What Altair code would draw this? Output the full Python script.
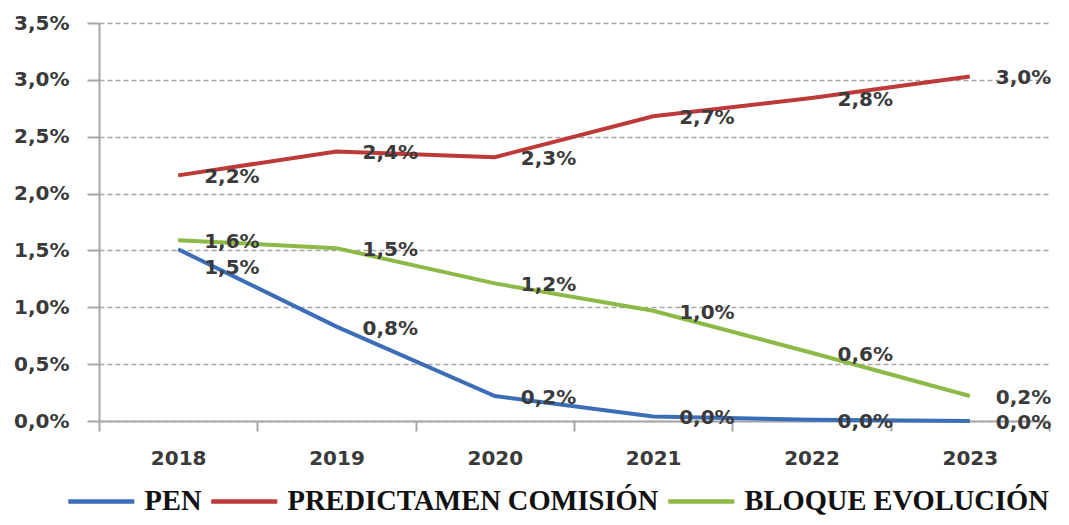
import altair as alt
import pandas as pd

years = ["2018", "2019", "2020", "2021", "2022", "2023"]
series = ["PEN", "PREDICTAMEN COMISIÓN", "BLOQUE EVOLUCIÓN"]
pen = [1.51, 0.83, 0.22, 0.04, 0.01, 0.00]
predictamen = [2.16, 2.37, 2.32, 2.68, 2.84, 3.03]
bloque = [1.59, 1.52, 1.21, 0.97, 0.60, 0.22]
colors = ["#3C6EB8", "#BE3A38", "#8DB946"]
y_ticks = [0.0, 0.5, 1.0, 1.5, 2.0, 2.5, 3.0, 3.5]

rows = []
for name, vals in zip(series, [pen, predictamen, bloque]):
    for yr, v in zip(years, vals):
        rows.append({"year": yr, "serie": name, "valor": v})
df = pd.DataFrame(rows)

AXIS_GRAY = "#a6a6a6"
TXT = "#3a3a3a"
FONT = "DejaVu Sans"

x_enc = alt.X(
    "year:O",
    scale=alt.Scale(type="band", paddingInner=0, paddingOuter=0),
    axis=alt.Axis(
        title=None, labelAngle=0, tickBand="extent", grid=False,
        domainColor=AXIS_GRAY, domainWidth=2, tickColor=AXIS_GRAY, tickWidth=2,
        tickSize=10, labelPadding=17, labelFont=FONT, labelFontSize=20,
        labelFontWeight="bold", labelColor=TXT,
    ),
)
y_enc = alt.Y(
    "valor:Q",
    scale=alt.Scale(domain=[0, 3.5], nice=False),
    axis=alt.Axis(
        title=None, values=y_ticks,
        labelExpr="replace(format(datum.value, '.1f'), '.', ',') + '%'",
        grid=True, gridDash=[5, 3], gridColor=AXIS_GRAY, gridWidth=1.5,
        domainColor=AXIS_GRAY, domainWidth=2, tickColor=AXIS_GRAY, tickWidth=2,
        tickSize=12, labelPadding=18, labelFont=FONT, labelFontSize=20,
        labelFontWeight="bold", labelColor=TXT,
    ),
)

base = alt.Chart(df).encode(x=x_enc, y=y_enc)

lines = base.mark_line(strokeWidth=4).encode(
    color=alt.Color(
        "serie:N",
        sort=series,
        scale=alt.Scale(domain=series, range=colors),
        legend=alt.Legend(
            title=None, orient="none", legendX=-12, legendY=464,
            direction="horizontal", columns=3,
            symbolType="M-3,0H3", symbolSize=484, symbolStrokeWidth=4.5,
            labelFont="Liberation Serif", labelFontSize=28.5, labelFontWeight="bold",
            labelColor="#111111", labelOffset=29, columnPadding=0, padding=0,
            labelLimit=1000,
        ),
    )
)

lab = base.transform_calculate(
    label="replace(format(datum.valor, '.1f'), '.', ',') + '%'"
)
text_style = dict(align="left", baseline="middle", dx=26, font=FONT,
                  fontSize=20, fontWeight="bold", color=TXT)
labels_main = lab.transform_filter(
    "!(datum.serie == 'PEN' && datum.year == '2018')"
).mark_text(dy=2, **text_style).encode(text="label:N")
labels_low = lab.transform_filter(
    "datum.serie == 'PEN' && datum.year == '2018'"
).mark_text(dy=19, **text_style).encode(text="label:N")

chart = (
    alt.layer(lines, labels_main, labels_low)
    .properties(width=950, height=398,
                padding={"left": 5, "top": 5, "right": 3, "bottom": 0})
    .configure_view(stroke=None)
)

chart.save("out.html", embed_options={"renderer": "svg", "actions": False})
